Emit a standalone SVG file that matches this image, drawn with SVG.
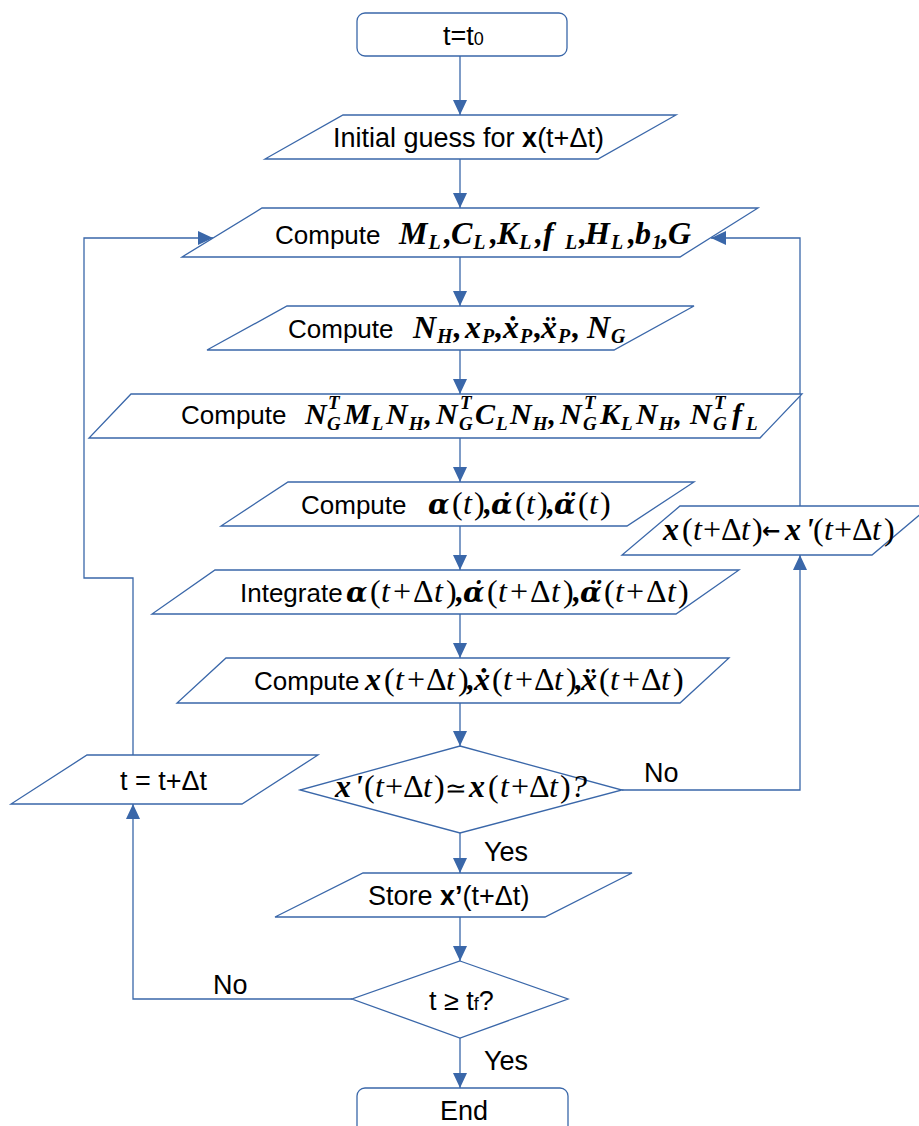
<svg xmlns="http://www.w3.org/2000/svg" width="919" height="1126" viewBox="0 0 919 1126">
<style>
.sh{fill:#fff;stroke:#3a67a9;stroke-width:1.3}
.cn{fill:none;stroke:#3a67a9;stroke-width:1.3}
.t{font-family:"Liberation Sans",Arial,sans-serif;font-size:27px;font-weight:normal;font-style:normal;fill:#000}
.c{font-family:"Liberation Sans",Arial,sans-serif;font-size:26px;font-weight:normal;font-style:normal}
.m{font-family:"Liberation Serif","Times New Roman",serif;font-size:32px;font-weight:bold;font-style:italic;fill:#000}
.m5{font-size:30px}
.s{font-size:20px}
.m5 .s{font-size:19px}
.p{font-weight:normal;font-style:normal;font-size:32px}
.i{font-weight:normal;font-style:italic}
.o{font-weight:normal;font-style:normal}
.a{font-family:"DejaVu Serif",serif;font-size:28px}
.ar{font-family:"DejaVu Sans",sans-serif;font-weight:bold;font-style:normal;font-size:22px}
</style>
<defs>
<marker id="ah" markerUnits="userSpaceOnUse" markerWidth="16" markerHeight="14" refX="15" refY="7" orient="auto"><path d="M0,0 L15,7 L0,14 z" fill="#3a67a9"/></marker>
</defs>
<g id="connectors" class="cn">
<path d="M460,56 V115" marker-end="url(#ah)"/>
<path d="M460,159 V208" marker-end="url(#ah)"/>
<path d="M460,257 V306" marker-end="url(#ah)"/>
<path d="M460,350 V394" marker-end="url(#ah)"/>
<path d="M460,438 V482" marker-end="url(#ah)"/>
<path d="M460,526 V570" marker-end="url(#ah)"/>
<path d="M460,614 V658" marker-end="url(#ah)"/>
<path d="M460,703 V746" marker-end="url(#ah)"/>
<path d="M460,833 V873" marker-end="url(#ah)"/>
<path d="M460,917 V961" marker-end="url(#ah)"/>
<path d="M460,1038 V1088" marker-end="url(#ah)"/>
<path d="M622,790 H800 V555" marker-end="url(#ah)"/>
<path d="M800,506 V238 H711" marker-end="url(#ah)"/>
<path d="M352,999 H133 V804" marker-end="url(#ah)"/>
<path d="M133,755 V578 H84 V238 H213" marker-end="url(#ah)"/>
</g>
<g id="labels">
<text class="t" x="484" y="861">Yes</text>
<text class="t" x="644" y="782">No</text>
<text class="t" x="213" y="994">No</text>
<text class="t" x="484" y="1070">Yes</text>
</g>
<g id="start">
<rect class="sh" x="357" y="13" width="210" height="43" rx="8"/>
<text class="t" x="443" y="45">t=t<tspan font-size="18">0</tspan></text>
</g>
<g id="initial">
<polygon class="sh" points="343,115 676,115 598,159 265,159"/>
<text class="t" x="333" y="147">Initial guess for <tspan font-weight="bold">x</tspan>(t+Δt)</text>
</g>
<g id="computeML">
<polygon class="sh" points="262,208 758,208 680,257 182,257"/>
<text class="m" y="244"><tspan class="c" x="275">Compute</tspan><tspan x="399">M</tspan><tspan class="s" dx="1" y="249">L</tspan><tspan x="444" y="244">,</tspan><tspan x="451">C</tspan><tspan class="s" dx="1" y="249">L</tspan><tspan x="490" y="244">,</tspan><tspan x="497">K</tspan><tspan class="s" dx="1" y="249">L</tspan><tspan x="535" y="244">,</tspan><tspan x="543">f</tspan><tspan class="s" x="565" y="249">L</tspan><tspan x="579" y="244">,</tspan><tspan x="585">H</tspan><tspan class="s" dx="1" y="249">L</tspan><tspan x="628" y="244">,</tspan><tspan x="635">b</tspan><tspan class="s" dx="1" y="249">1</tspan><tspan x="661" y="244">,</tspan><tspan x="668">G</tspan></text>
</g>
<g id="computeNH">
<polygon class="sh" points="287,306 694,306 614,350 207,350"/>
<text class="m" y="338"><tspan class="c" x="288">Compute</tspan><tspan x="413">N</tspan><tspan class="s" dx="1" y="343">H</tspan><tspan dx="1" y="338">,</tspan><tspan x="465">x</tspan><tspan class="s" dx="1" y="343">P</tspan><tspan dx="1" y="338">,</tspan><tspan x="503">x&#x307;</tspan><tspan class="s" dx="1" y="343">P</tspan><tspan dx="2" y="338">,</tspan><tspan x="541">x&#x308;</tspan><tspan class="s" dx="1" y="343">P</tspan><tspan dx="2" y="338">,</tspan><tspan x="587">N</tspan><tspan class="s" dx="1" y="343">G</tspan></text>
</g>
<g id="computeNG">
<polygon class="sh" points="131,394 802,394 760,438 89,438"/>
<text class="m m5" y="424"><tspan class="c" x="181">Compute</tspan><tspan x="305">N</tspan><tspan class="s" x="328" y="409">T</tspan><tspan class="s" x="327" y="430">G</tspan><tspan x="344" y="424">M</tspan><tspan class="s" dx="1" y="430">L</tspan><tspan x="386" y="424">N</tspan><tspan class="s" dx="1" y="430">H</tspan><tspan dx="1" y="424">,</tspan><tspan x="436">N</tspan><tspan class="s" x="460" y="409">T</tspan><tspan class="s" x="459" y="430">G</tspan><tspan x="475" y="424">C</tspan><tspan class="s" dx="1" y="430">L</tspan><tspan x="510" y="424">N</tspan><tspan class="s" dx="1" y="430">H</tspan><tspan dx="1" y="424">,</tspan><tspan x="560">N</tspan><tspan class="s" x="584" y="409">T</tspan><tspan class="s" x="583" y="430">G</tspan><tspan x="600" y="424">K</tspan><tspan class="s" dx="1" y="430">L</tspan><tspan x="636" y="424">N</tspan><tspan class="s" dx="1" y="430">H</tspan><tspan dx="1" y="424">,</tspan><tspan x="690">N</tspan><tspan class="s" x="714" y="409">T</tspan><tspan class="s" x="713" y="430">G</tspan><tspan x="732" y="424">f</tspan><tspan class="s" x="746" y="430">L</tspan></text>
</g>
<g id="computeAlpha">
<polygon class="sh" points="288,482 694,482 627,526 221,526"/>
<text class="m" y="514"><tspan class="c" x="301">Compute</tspan><tspan class="a" x="428">α</tspan><tspan class="p" x="452">(</tspan><tspan class="i" x="463">t</tspan><tspan class="p" x="474">)</tspan><tspan x="484">,</tspan><tspan class="a" x="491">α&#x307;</tspan><tspan class="p" x="515">(</tspan><tspan class="i" x="526">t</tspan><tspan class="p" x="537">)</tspan><tspan x="547">,</tspan><tspan class="a" x="554">α&#x308;</tspan><tspan class="p" x="578">(</tspan><tspan class="i" x="589">t</tspan><tspan class="p" x="600">)</tspan></text>
</g>
<g id="update">
<polygon class="sh" points="680,506 930,506 872,555 622,555"/>
<text class="m" y="540"><tspan x="663">x</tspan><tspan class="p" x="682">(</tspan><tspan class="i" x="693">t</tspan><tspan class="o" x="703">+</tspan><tspan class="o" x="721">Δ</tspan><tspan class="i" x="741">t</tspan><tspan class="p" x="752">)</tspan><tspan class="ar" x="762" y="538">←</tspan><tspan x="785" y="540">x</tspan><tspan x="805">'</tspan><tspan class="p" x="813">(</tspan><tspan class="i" x="824">t</tspan><tspan class="o" x="834">+</tspan><tspan class="o" x="852">Δ</tspan><tspan class="i" x="872">t</tspan><tspan class="p" x="884">)</tspan></text>
</g>
<g id="integrate">
<polygon class="sh" points="215,570 739,570 676,614 152,614"/>
<text class="m" y="602"><tspan class="c" x="240">Integrate</tspan><tspan class="a" x="346">α</tspan><tspan class="p" x="370">(</tspan><tspan class="i" x="381">t</tspan><tspan class="o" x="393">+</tspan><tspan class="o" x="413">Δ</tspan><tspan class="i" x="434">t</tspan><tspan class="p" x="446">)</tspan><tspan x="456">,</tspan><tspan class="a" x="463">α&#x307;</tspan><tspan class="p" x="487">(</tspan><tspan class="i" x="498">t</tspan><tspan class="o" x="510">+</tspan><tspan class="o" x="530">Δ</tspan><tspan class="i" x="551">t</tspan><tspan class="p" x="563">)</tspan><tspan x="573">,</tspan><tspan class="a" x="580">α&#x308;</tspan><tspan class="p" x="604">(</tspan><tspan class="i" x="615">t</tspan><tspan class="o" x="626">+</tspan><tspan class="o" x="646">Δ</tspan><tspan class="i" x="667">t</tspan><tspan class="p" x="678">)</tspan></text>
</g>
<g id="computeX">
<polygon class="sh" points="226,658 729,658 680,703 177,703"/>
<text class="m" y="690"><tspan class="c" x="254">Compute</tspan><tspan x="365">x</tspan><tspan class="p" x="384">(</tspan><tspan class="i" x="395">t</tspan><tspan class="o" x="407">+</tspan><tspan class="o" x="426">Δ</tspan><tspan class="i" x="446">t</tspan><tspan class="p" x="458">)</tspan><tspan x="467">,</tspan><tspan x="474">x&#x307;</tspan><tspan class="p" x="492">(</tspan><tspan class="i" x="503">t</tspan><tspan class="o" x="515">+</tspan><tspan class="o" x="534">Δ</tspan><tspan class="i" x="554">t</tspan><tspan class="p" x="566">)</tspan><tspan x="575">,</tspan><tspan x="581">x&#x308;</tspan><tspan class="p" x="599">(</tspan><tspan class="i" x="610">t</tspan><tspan class="o" x="622">+</tspan><tspan class="o" x="641">Δ</tspan><tspan class="i" x="661">t</tspan><tspan class="p" x="673">)</tspan></text>
</g>
<g id="check1">
<polygon class="sh" points="460,746 622,790 460,833 300,790"/>
<text class="m" y="797"><tspan x="335">x</tspan><tspan x="354">'</tspan><tspan class="p" x="364">(</tspan><tspan class="i" x="375">t</tspan><tspan class="o" x="385">+</tspan><tspan class="o" x="403">Δ</tspan><tspan class="i" x="423">t</tspan><tspan class="p" x="434">)</tspan><tspan class="o" x="445" font-size="26">≃</tspan><tspan x="469">x</tspan><tspan class="p" x="488">(</tspan><tspan class="i" x="500">t</tspan><tspan class="o" x="511">+</tspan><tspan class="o" x="529">Δ</tspan><tspan class="i" x="549">t</tspan><tspan class="p" x="560">)</tspan><tspan class="i" x="571">?</tspan></text>
</g>
<g id="timestep">
<polygon class="sh" points="87,755 318,755 242,804 11,804"/>
<text class="t" x="120" y="790">t = t+Δt</text>
</g>
<g id="store">
<polygon class="sh" points="363,873 632,873 545,917 275,917"/>
<text class="t" x="368" y="905">Store <tspan font-weight="bold">x’</tspan>(t+Δt)</text>
</g>
<g id="check2">
<polygon class="sh" points="460,961 568,999 460,1038 352,999"/>
<text class="t" x="429" y="1010">t ≥ t<tspan font-size="18">f</tspan>?</text>
</g>
<g id="end">
<rect class="sh" x="357" y="1088" width="211" height="50" rx="8"/>
<text class="t" x="440" y="1120">End</text>
</g>
</svg>
